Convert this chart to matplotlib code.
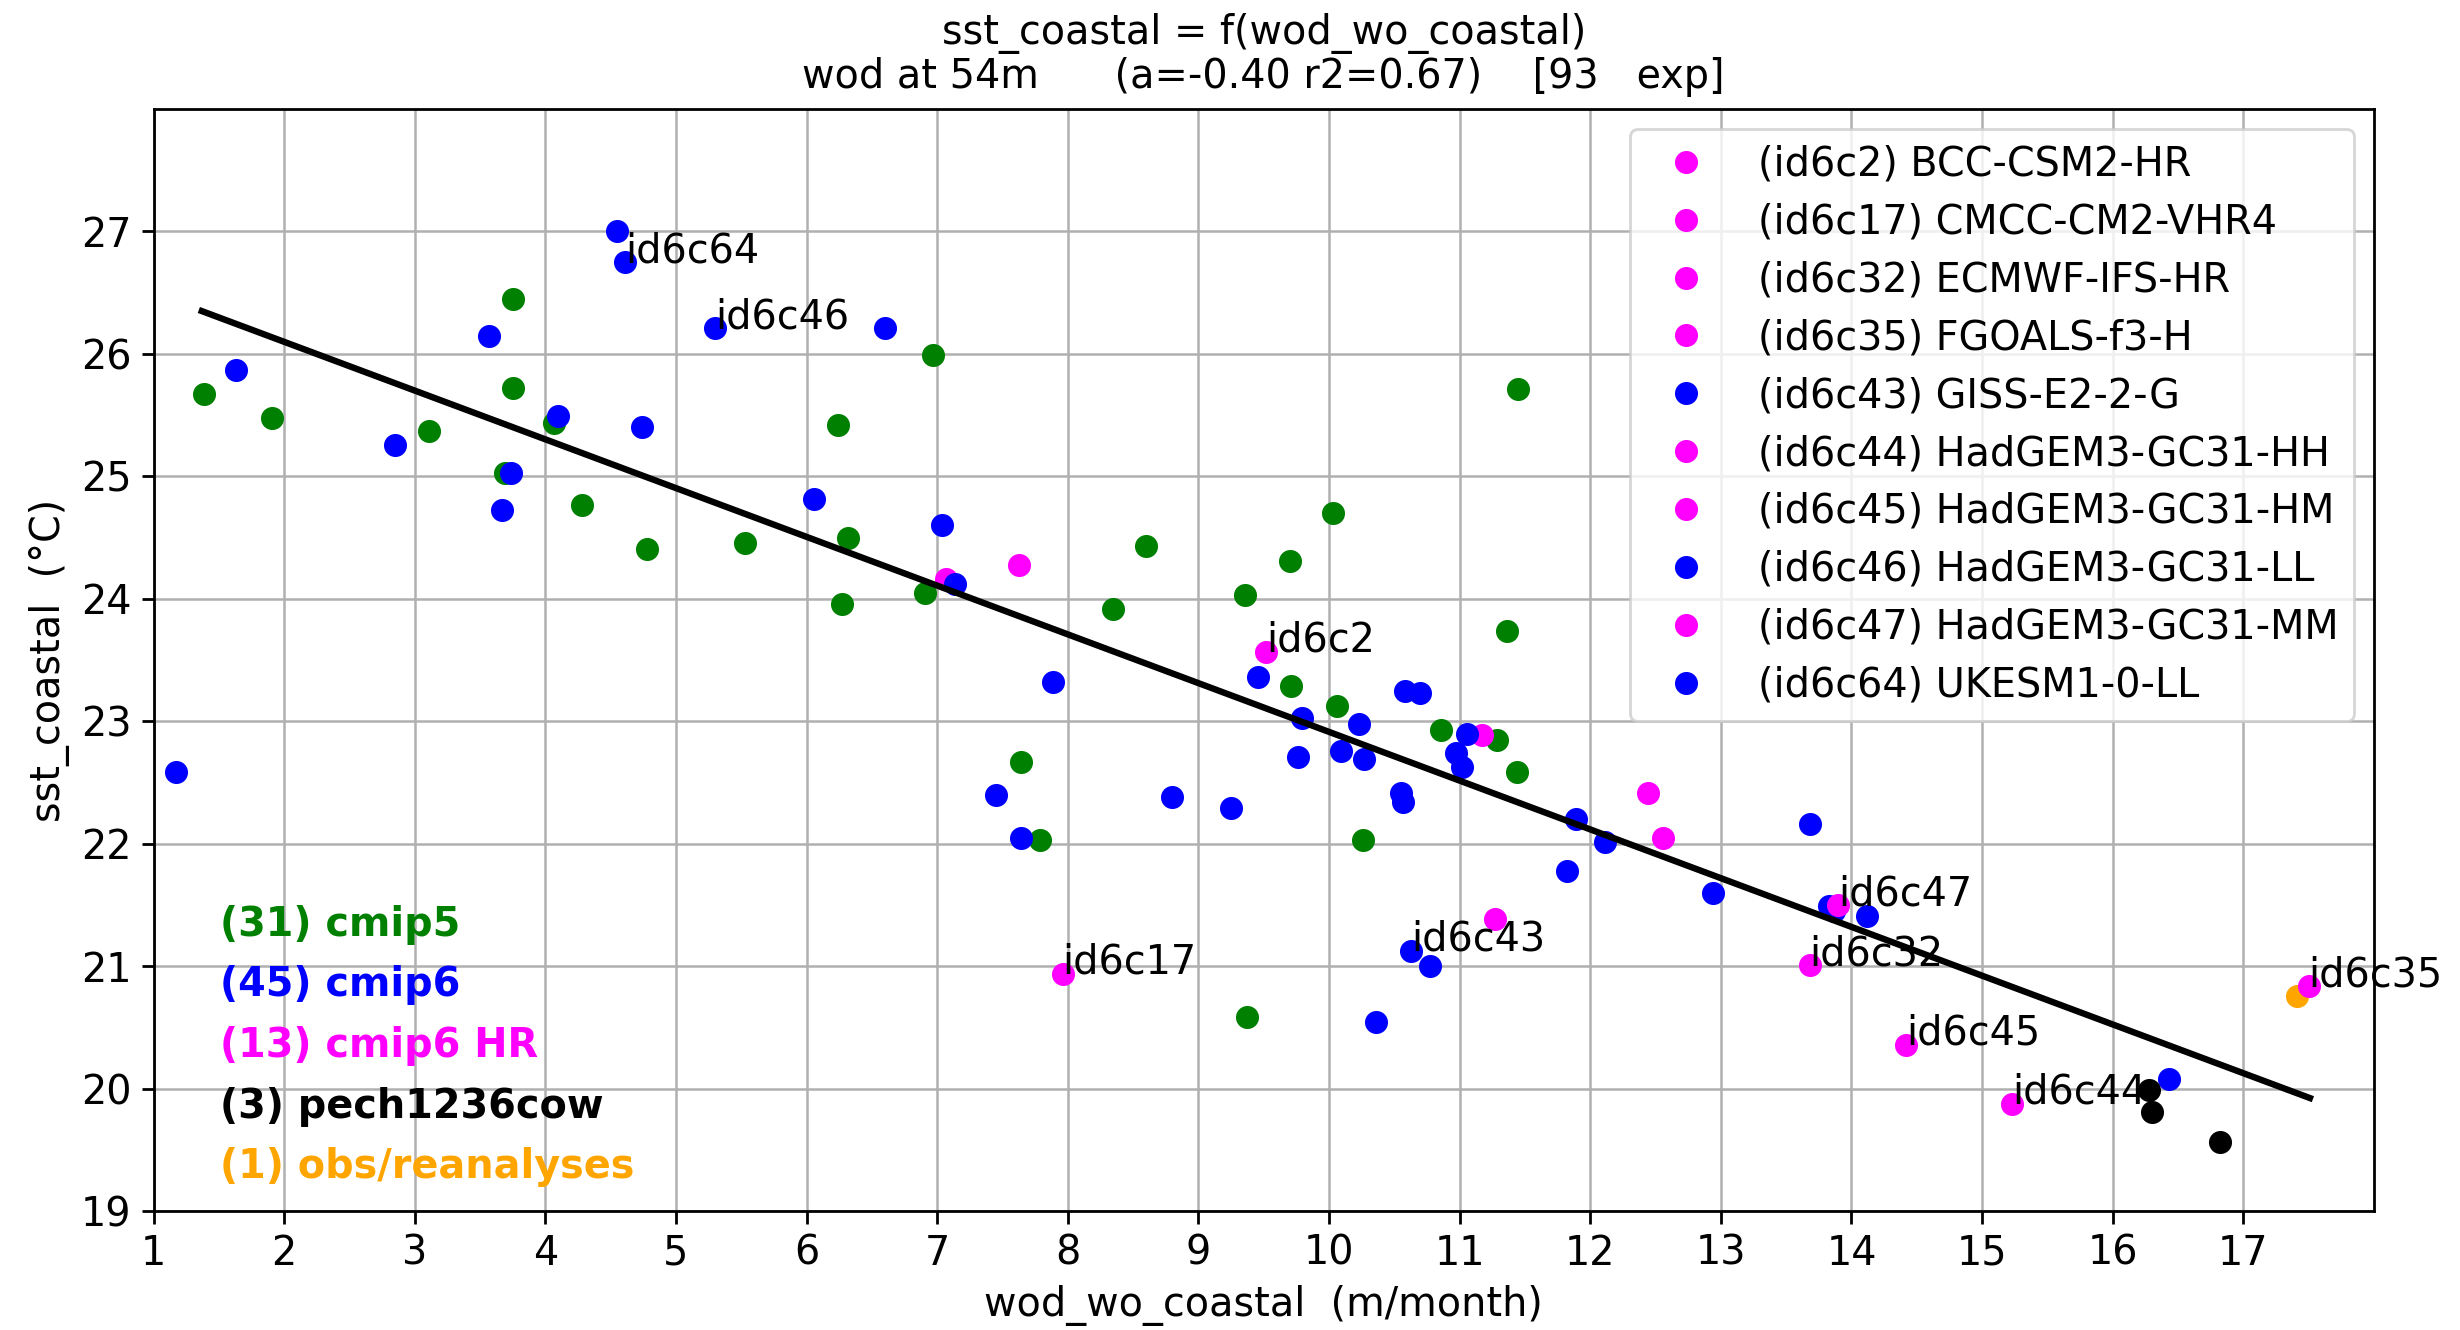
import numpy as np
import matplotlib
matplotlib.use("Agg")
import matplotlib.pyplot as plt

# --- cmip5 runs (green)
cmip5_x = [3.75, 1.39, 3.75, 1.91, 4.07, 3.11, 3.69, 4.28, 4.78, 5.53,
           6.24, 6.32, 6.27, 6.97, 11.45, 8.60, 10.03, 9.70, 6.91, 9.36,
           8.35, 11.36, 9.71, 10.06, 10.86, 11.29, 11.44, 7.64, 7.79, 10.26,
           9.37]
cmip5_y = [26.45, 25.67, 25.72, 25.48, 25.44, 25.37, 25.03, 24.77, 24.41, 24.46,
           25.42, 24.50, 23.96, 25.99, 25.71, 24.43, 24.70, 24.31, 24.05, 24.03,
           23.92, 23.74, 23.29, 23.13, 22.93, 22.85, 22.59, 22.67, 22.03, 22.03,
           20.59]

# --- cmip6 runs (blue), without the named ones
cmip6_x = [4.55, 3.57, 1.63, 4.10, 4.74, 2.85, 3.74, 3.67, 6.06, 6.60,
           7.04, 7.14, 9.46, 7.89, 10.58, 10.70, 9.79, 10.23, 11.06, 9.76,
           10.09, 10.27, 10.97, 11.02, 7.45, 8.80, 9.25, 7.64, 10.55, 10.57,
           11.89, 12.11, 11.82, 10.77, 10.36, 13.68, 12.94, 13.83, 13.87, 14.12,
           16.43, 1.17]
cmip6_y = [27.00, 26.15, 25.87, 25.49, 25.40, 25.26, 25.03, 24.73, 24.82, 26.21,
           24.60, 24.12, 23.36, 23.32, 23.25, 23.23, 23.03, 22.98, 22.90, 22.71,
           22.76, 22.69, 22.74, 22.63, 22.40, 22.38, 22.29, 22.05, 22.42, 22.34,
           22.20, 22.02, 21.78, 21.00, 20.55, 22.16, 21.60, 21.49, 21.45, 21.41,
           20.08, 22.59]

# --- cmip6 HighResMIP runs (magenta), without the named ones
hr_x = [7.63, 7.07, 11.17, 12.44, 12.56, 11.27]
hr_y = [24.28, 24.16, 22.89, 22.42, 22.05, 21.39]

# --- pech1236cow (black) and obs/reanalyses (orange)
pech_x = [16.28, 16.30, 16.82]
pech_y = [19.99, 19.81, 19.57]
obs_x = [17.41]
obs_y = [20.76]

# --- named experiments (shown in legend + tagged on the plot)
named_id = ["id6c2", "id6c17", "id6c32", "id6c35", "id6c43",
            "id6c44", "id6c45", "id6c46", "id6c47", "id6c64"]
named_model = ["BCC-CSM2-HR", "CMCC-CM2-VHR4", "ECMWF-IFS-HR", "FGOALS-f3-H", "GISS-E2-2-G",
               "HadGEM3-GC31-HH", "HadGEM3-GC31-HM", "HadGEM3-GC31-LL", "HadGEM3-GC31-MM", "UKESM1-0-LL"]
named_group = ["hr", "hr", "hr", "hr", "cmip6", "hr", "hr", "cmip6", "hr", "cmip6"]
named_x = [9.52, 7.96, 13.68, 17.50, 10.63, 15.23, 14.42, 5.30, 13.90, 4.61]
named_y = [23.57, 20.94, 21.01, 20.84, 21.13, 19.88, 20.36, 26.21, 21.50, 26.75]

# linear fit sst = a * wod + b
a_fit = -0.398
b_fit = 26.895
r2_fit = 0.67
fit_x = np.array([1.37, 17.51])

group_color = {"cmip5": "green", "cmip6": "blue", "hr": "magenta",
               "pech": "black", "obs": "orange"}
group_name = {"cmip5": "cmip5", "cmip6": "cmip6", "hr": "cmip6 HR",
              "pech": "pech1236cow", "obs": "obs/reanalyses"}
group_n = {"cmip5": len(cmip5_x), "cmip6": len(cmip6_x), "hr": len(hr_x),
           "pech": len(pech_x), "obs": len(obs_x)}
for g in named_group:
    group_n[g] += 1
n_exp = sum(group_n.values())

fs = 14.3
plt.rcParams['font.family'] = 'DejaVu Sans'
plt.rcParams['font.size'] = fs

fig = plt.figure(figsize=(12.3, 6.65), dpi=200)
ax = fig.add_axes([0.0624, 0.0891, 0.9026, 0.8290])

ms = 8.3
ax.plot(cmip5_x, cmip5_y, 'o', color='green', ms=ms, mew=0, zorder=3)
ax.plot(hr_x, hr_y, 'o', color='magenta', ms=ms, mew=0, zorder=3)
ax.plot(cmip6_x, cmip6_y, 'o', color='blue', ms=ms, mew=0, zorder=3)
ax.plot(pech_x, pech_y, 'o', color='black', ms=ms, mew=0, zorder=3)
ax.plot(obs_x, obs_y, 'o', color='orange', ms=ms, mew=0, zorder=3)

for i in range(len(named_id)):
    ax.plot(named_x[i], named_y[i], 'o', color=group_color[named_group[i]], ms=ms, mew=0,
            zorder=4, label="(%s) %s" % (named_id[i], named_model[i]))
    ax.text(named_x[i], named_y[i], named_id[i], fontsize=fs, zorder=5)

ax.plot(fit_x, a_fit * fit_x + b_fit, color='black', lw=2.3, zorder=4)

# group counts, bottom left
for k, g in enumerate(["obs", "pech", "hr", "cmip6", "cmip5"]):
    ax.text(0.03, 0.03 + 0.055 * k, "(%d) %s" % (group_n[g], group_name[g]),
            transform=ax.transAxes, color=group_color[g], fontsize=fs,
            fontweight='bold', zorder=5)

ax.set_xlim(1, 18)
ax.set_ylim(19, 28)
ax.set_xticks(range(1, 18))
ax.set_yticks(range(19, 28))
ax.grid(True, color='#b0b0b0', lw=0.9)
ax.set_axisbelow(True)
ax.tick_params(length=4.5, width=1)
for sp in ax.spines.values():
    sp.set_linewidth(1.0)

ax.set_xlabel("wod_wo_coastal  (m/month)")
ax.set_ylabel("sst_coastal  (°C)")
ax.set_title("sst_coastal = f(wod_wo_coastal)\n"
             "wod at 54m      (a=%.2f r2=%.2f)    [%d   exp]" % (a_fit, r2_fit, n_exp),
             fontsize=fs, linespacing=1.09, pad=7.7)
ax.legend(loc='upper right', fontsize=fs, numpoints=1, labelspacing=0.45)

fig.savefig("out.png", dpi=200)
